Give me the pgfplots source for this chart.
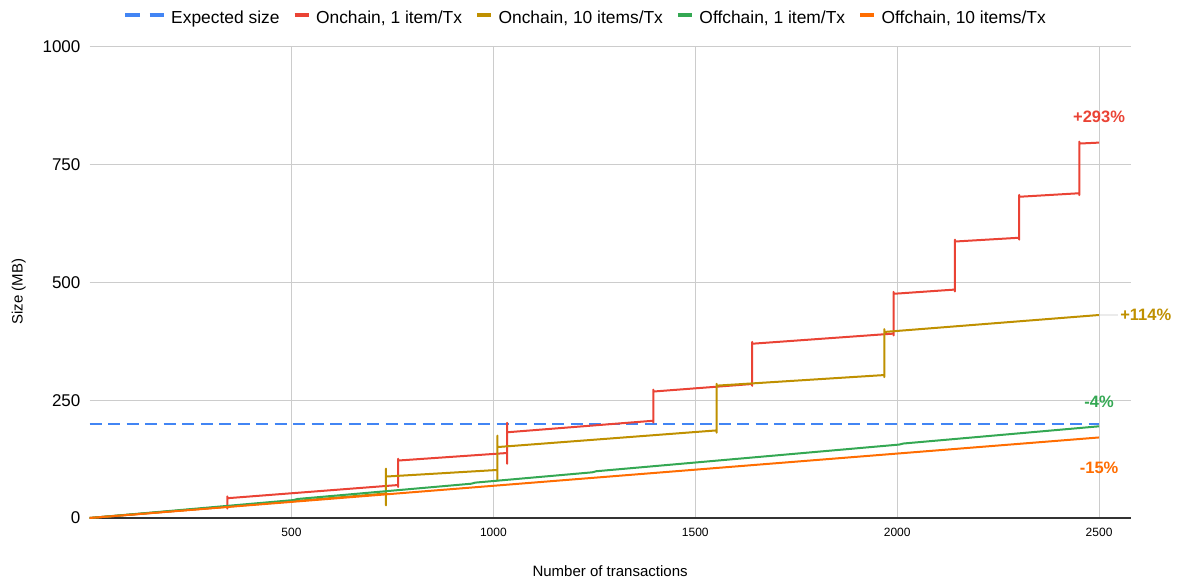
\documentclass[border=0pt]{standalone}
\usepackage{fontspec}
\setmainfont{Liberation Sans}
\usepackage{pgfplots}
\pgfplotsset{compat=1.18}
\definecolor{cblue}{HTML}{4285F4}
\definecolor{cred}{HTML}{EA4335}
\definecolor{cgold}{HTML}{BF9000}
\definecolor{cgreen}{HTML}{34A853}
\definecolor{corange}{HTML}{FF6D01}
\definecolor{cgrid}{HTML}{CCCCCC}
\definecolor{caxis}{HTML}{333333}
\begin{document}
\begin{tikzpicture}
\useasboundingbox (0,0) rectangle (1178pt,581pt);
\begin{axis}[
  at={(89.6pt,63pt)}, anchor=south west,
  scale only axis, width=1041pt, height=471pt,
  xmin=0, xmax=2578, ymin=0, ymax=1000,
  xtick={500,1000,1500,2000,2500},
  ytick={0,250,500,750,1000},
  grid=major,
  major grid style={draw=cgrid, line width=1pt},
  axis x line*=bottom, axis y line*=left,
  x axis line style={draw=caxis, line width=1.1pt},
  y axis line style={draw=none},
  major tick length=0pt,
  tick style={draw=none},
  clip=false,
  /pgf/number format/assume math mode=true,
  /pgf/number format/1000 sep={},
  xticklabel style={font=\fontsize{12}{14}\selectfont, inner sep=0pt, anchor=north, yshift=-10pt},
  yticklabel style={font=\fontsize{17}{20}\selectfont, inner sep=0pt, anchor=east, xshift=-9pt},
  xlabel={Number of transactions},
  xlabel style={font=\fontsize{15}{18}\selectfont, inner sep=0pt, at={(axis description cs:0.5,-0.1125)}, anchor=center},
  ylabel={Size (MB)},
  ylabel style={font=\fontsize{15}{18}\selectfont, inner sep=0pt, at={(axis description cs:-0.068,0.481)}, anchor=center},
  legend columns=5,
  legend cell align=left,
  legend style={at={(axis description cs:0.4754,1.062)}, anchor=center, draw=none, fill=none,
    inner sep=0pt, outer sep=0pt, font=\fontsize{17.4}{20}\selectfont,
    nodes={inner sep=0pt},
    /tikz/every even column/.append style={column sep=13pt},
    /tikz/every odd column/.append style={column sep=5.5pt}},
]
\addplot[cblue, line width=2.5pt, dash pattern=on 12pt off 6.5pt,
  legend image code/.code={\draw[cblue, line width=4pt, dash pattern=on 14.5pt off 10pt] (0pt,0.3em) -- (38.5pt,0.3em);}]
  coordinates {(0,200) (2500,200)};
\addlegendentry{Expected size}
\addplot[cred, line width=2pt, line join=round,
  legend image code/.code={\draw[cred, line width=4pt] (0pt,0.3em) -- (14pt,0.3em);}]
  coordinates {(0,0) (341,24) (341,20) (341,46) (341,42)
  (764,70) (764,66) (764,126) (764,122)
  (1034,138) (1034,115) (1034,202) (1034,182)
  (1396,206.5) (1396,202.5) (1396,272.5) (1396,268.5)
  (1641,284.5) (1641,280.5) (1641,374) (1641,370)
  (1991,391.5) (1991,387.5) (1991,480) (1991,476)
  (2143,485) (2143,481) (2143,591) (2143,587)
  (2302,595) (2302,591) (2302,686) (2302,682)
  (2451,689.5) (2451,685.5) (2451,799) (2451,795)
  (2500,797)};
\addlegendentry{Onchain, 1 item/Tx}
\addplot[cgold, line width=2pt, line join=round,
  legend image code/.code={\draw[cgold, line width=4pt] (0pt,0.3em) -- (14pt,0.3em);}]
  coordinates {(0,0) (734,52) (734,27) (734,105) (734,88)
  (1010,102) (1010,80) (1010,175) (1010,150.6)
  (1553,186) (1553,181) (1553,285) (1553,281)
  (1968,303.5) (1968,299) (1968,401) (1968,395)
  (2500,431)};
\addlegendentry{Onchain, 10 items/Tx}
\addplot[cgreen, line width=2pt, line join=round,
  legend image code/.code={\draw[cgreen, line width=4pt] (0pt,0.3em) -- (14pt,0.3em);}]
  coordinates {(0,0) (505,38.1) (515,40.4) (945,72.8) (955,75.1)
  (1245,97) (1255,99.3) (2005,155.9) (2015,158.1) (2500,194.7)};
\addlegendentry{Offchain, 1 item/Tx}
\addplot[corange, line width=2pt, line join=round,
  legend image code/.code={\draw[corange, line width=4pt] (0pt,0.3em) -- (14pt,0.3em);}]
  coordinates {(0,0) (1000,68.4) (2000,136.8) (2500,171)};
\addlegendentry{Offchain, 10 items/Tx}
\draw[black!8, line width=1.5pt] (axis cs:2502,431) -- (axis cs:2546,431);
\node[font=\bfseries\fontsize{16.5}{18}\selectfont, text=cred, inner sep=0pt] at (axis cs:2500,851) {+293\%};
\node[font=\bfseries\fontsize{16.5}{18}\selectfont, text=cgold, inner sep=0pt, anchor=west] at (axis cs:2552,431) {+114\%};
\node[font=\bfseries\fontsize{16.5}{18}\selectfont, text=cgreen, inner sep=0pt] at (axis cs:2500,247) {-4\%};
\node[font=\bfseries\fontsize{16.5}{18}\selectfont, text=corange, inner sep=0pt] at (axis cs:2500,106) {-15\%};
\end{axis}
\end{tikzpicture}
\end{document}
